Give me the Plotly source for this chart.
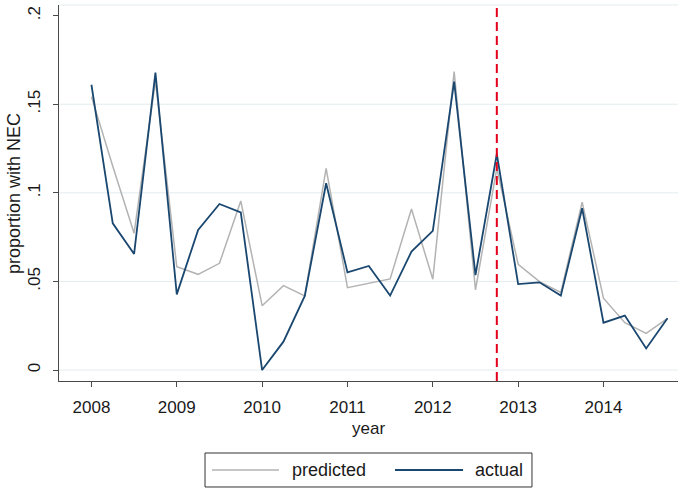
import plotly.graph_objects as go

# Quarterly time points
years = [2008 + q * 0.25 for q in range(28)]

predicted = [0.1543, 0.115, 0.0772, 0.163, 0.0583, 0.054, 0.0602, 0.0954,
             0.0363, 0.0476, 0.0418, 0.1138, 0.0465, 0.0489, 0.0514, 0.0909,
             0.0512, 0.1684, 0.0452, 0.1138, 0.0597, 0.0499, 0.0438, 0.0947,
             0.0405, 0.0267, 0.0207, 0.0292]

actual = [0.161, 0.0828, 0.0655, 0.1678, 0.0427, 0.079, 0.0937, 0.089,
          0.0, 0.016, 0.0418, 0.1054, 0.0551, 0.0587, 0.042, 0.0668,
          0.0785, 0.1627, 0.0536, 0.1219, 0.0485, 0.0495, 0.042, 0.0913,
          0.0267, 0.0307, 0.0122, 0.0292]

x_ticks = [2008, 2009, 2010, 2011, 2012, 2013, 2014]
x_ticklabels = ["2008", "2009", "2010", "2011", "2012", "2013", "2014"]
y_ticks = [0, 0.05, 0.1, 0.15, 0.2]
y_ticklabels = ["0", ".05", ".1", ".15", ".2"]
grid_values = [0, 0.05, 0.1, 0.15]
cutoff_year = 2012.75
x_title = "year"
y_title = "proportion with NEC"
series_names = ["predicted", "actual"]

FONT = "Liberation Sans, Arial, sans-serif"
AXIS_COLOR = "#4a4a4a"
GRID_COLOR = "#e3ecef"
TEXT_COLOR = "#1a1a1a"
PRED_COLOR = "#b3b3b3"
ACT_COLOR = "#1a476f"

fig = go.Figure()

for g in grid_values:
    fig.add_hline(y=g, line=dict(color=GRID_COLOR, width=1), layer="below")

# faint plot-region top border
fig.add_shape(type="line", xref="paper", yref="paper", x0=0, x1=1, y0=1, y1=1,
              line=dict(color=GRID_COLOR, width=1), layer="below")

fig.add_trace(go.Scatter(x=years, y=predicted, mode="lines", name=series_names[0],
                         line=dict(color=PRED_COLOR, width=1.5), showlegend=False))
fig.add_trace(go.Scatter(x=years, y=actual, mode="lines", name=series_names[1],
                         line=dict(color=ACT_COLOR, width=1.8), showlegend=False))

fig.add_vline(x=cutoff_year, line=dict(color="#e3001b", width=2, dash="9px,5px"))

# axis titles
fig.add_annotation(text=y_title, xref="paper", yref="paper", x=-0.0727, y=0.5,
                   xanchor="center", yanchor="middle", textangle=-90, showarrow=False,
                   font=dict(size=18, color=TEXT_COLOR, family=FONT))
fig.add_annotation(text=x_title, xref="paper", yref="paper", x=0.5, y=-0.125,
                   xanchor="center", yanchor="middle", showarrow=False,
                   font=dict(size=17, color=TEXT_COLOR, family=FONT))

# legend box (Stata-style, below the plot)
fig.add_shape(type="rect", xref="paper", yref="paper", x0=0.2359, x1=0.7641,
              y0=-0.2819, y1=-0.1915, line=dict(color="#333333", width=1),
              fillcolor="white")
leg_y = -0.2367
for (x0, x1, tx, name, col, w) in [
        (0.2472, 0.3554, 0.3732, series_names[0], PRED_COLOR, 1.5),
        (0.5428, 0.6527, 0.6688, series_names[1], ACT_COLOR, 1.8)]:
    fig.add_shape(type="line", xref="paper", yref="paper", x0=x0, x1=x1,
                  y0=leg_y, y1=leg_y, line=dict(color=col, width=w))
    fig.add_annotation(text=name, xref="paper", yref="paper", x=tx, y=leg_y,
                       xanchor="left", yanchor="middle", showarrow=False,
                       font=dict(size=18, color=TEXT_COLOR, family=FONT))

fig.update_layout(
    width=700, height=493,
    margin=dict(l=59, r=22, t=5, b=112),
    paper_bgcolor="white", plot_bgcolor="white",
    font=dict(family=FONT, size=17, color=TEXT_COLOR),
    showlegend=False,
    xaxis=dict(range=[2007.62, 2014.873], tickvals=x_ticks, ticktext=x_ticklabels,
               showgrid=False, zeroline=False, showline=True, linecolor=AXIS_COLOR,
               linewidth=1.2, ticks="outside", ticklen=5, tickcolor=AXIS_COLOR,
               ticklabelstandoff=5, automargin=False),
    yaxis=dict(range=[-0.0062, 0.206], tickvals=y_ticks, ticktext=y_ticklabels,
               tickangle=-90, showgrid=False,
               zeroline=False, showline=True, linecolor=AXIS_COLOR, linewidth=1.2,
               ticks="outside", ticklen=5, tickcolor=AXIS_COLOR,
               ticklabelstandoff=6, automargin=False),
)

fig.write_html("out.html", config={"displayModeBar": False},
               post_script="document.body.style.margin='0';")
